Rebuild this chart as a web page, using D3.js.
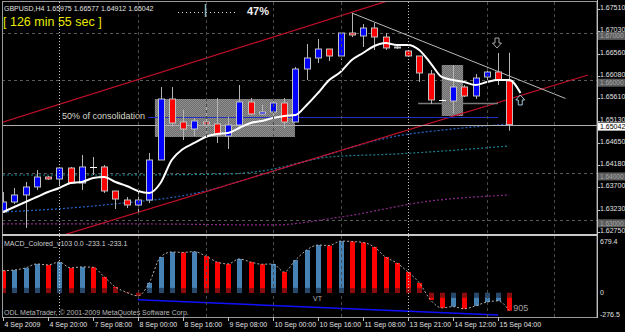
<!DOCTYPE html>
<html>
<head>
<meta charset="utf-8">
<script src="https://d3js.org/d3.v7.min.js"></script>
<style>
  body { margin: 0; background: #000; }
  svg text { font-family: "Liberation Sans", Arial, sans-serif; }
</style>
</head>
<body>
<div id="chart"></div>
<script>

  // GBPUSD H4 bars, 4 Sep 04:00 .. 15 Sep 08:00
  var opens  = [1.63177,1.63390,1.63540,1.63711,1.63924,1.63881,1.64116,1.63796,1.64138,1.64138,1.63625,1.63433,1.63326,1.63433,1.64287,1.65589,1.65098,1.64949,1.65098,1.65056,1.64799,1.65034,1.65525,1.65269,1.65312,1.65504,1.65098,1.66229,1.66464,1.66656,1.66507,1.66998,1.66934,1.67104,1.66912,1.66678,1.66614,1.66507,1.66123,1.65568,1.65546,1.65845,1.65653,1.66059,1.66165,1.65975]
  var highs  = [1.63604,1.63689,1.63817,1.64073,1.63945,1.64138,1.64138,1.64394,1.64351,1.64180,1.63625,1.63497,1.63604,1.64436,1.65845,1.65845,1.65354,1.65184,1.65418,1.65610,1.65205,1.65888,1.65610,1.65461,1.65568,1.65610,1.66272,1.66763,1.66870,1.66656,1.67019,1.67425,1.67190,1.67211,1.66998,1.66763,1.66635,1.66507,1.66208,1.65589,1.66315,1.65888,1.66123,1.66272,1.66571,1.66577]
  var lows   = [1.63177,1.63348,1.62836,1.63647,1.63860,1.63732,1.63775,1.63647,1.63967,1.63583,1.63241,1.63262,1.63177,1.63369,1.64287,1.64991,1.64714,1.64799,1.64863,1.64650,1.64522,1.64991,1.65248,1.65248,1.65184,1.64970,1.65098,1.65994,1.66357,1.66400,1.66421,1.66912,1.66699,1.66635,1.66635,1.66656,1.66485,1.65952,1.65482,1.65546,1.65290,1.65632,1.65589,1.65952,1.65888,1.64912]
  var closes = [1.63390,1.63540,1.63711,1.63924,1.63881,1.64116,1.63796,1.64138,1.64138,1.63625,1.63454,1.63326,1.63433,1.64287,1.65589,1.65077,1.64949,1.65120,1.65056,1.64821,1.65034,1.65525,1.65269,1.65312,1.65504,1.65098,1.66229,1.66464,1.66656,1.66507,1.66998,1.66955,1.67104,1.66912,1.66678,1.66699,1.66507,1.66144,1.65568,1.65568,1.65845,1.65653,1.66037,1.66165,1.65994,1.65042]

  // white moving average (shifted one bar forward, so 47 points)
  var maWhite = [1.63177,1.63284,1.63390,1.63497,1.63604,1.63689,1.63796,1.63817,1.63903,1.63924,1.63817,1.63732,1.63625,1.63583,1.63796,1.64287,1.64522,1.64650,1.64778,1.64842,1.64863,1.64970,1.65077,1.65120,1.65184,1.65226,1.65248,1.65461,1.65717,1.65994,1.66165,1.66421,1.66571,1.66720,1.66784,1.66742,1.66742,1.66635,1.66357,1.66059,1.65994,1.65952,1.65888,1.65952,1.65994,1.65994,1.65717]

  // slow dotted averages, [bar, price]
  var maBlue   = [[0,1.63177],[9,1.63327],[18,1.63625],[22,1.63903],[27,1.64265],[35,1.64799],[40,1.64949],[45,1.65056]]
  var maTeal   = [[0,1.63967],[10,1.63967],[20,1.63988],[23,1.64052],[29,1.64351],[35,1.64416],[45,1.64586]]
  var maPurple = [[0,1.62922],[12,1.62922],[24,1.62900],[30,1.63070],[38,1.63412],[45,1.63540]]

  var priceTicks = [1.67510,1.67030,1.66560,1.66080,1.65610,1.65130,1.64650,1.64180,1.63700,1.63230,1.62750]
  var levels = [1.67, 1.66, 1.64, 1.63]
  var bid = 1.65042

  var timeTicks = [0,4,8,12,16,20,24,28,32,36,40,44]
  var timeLabels = ["4 Sep 2009","4 Sep 20:00","7 Sep 08:00","8 Sep 00:00","8 Sep 16:00","9 Sep 08:00","10 Sep 00:00","10 Sep 16:00","11 Sep 08:00","13 Sep 21:00","14 Sep 12:00","15 Sep 04:00"]
  var daySeps = [12,18,24,30,43,49]
  var weekSeps = [5,36]

  // drawn objects, [bar, price]
  var chanUpper = [[0,1.65096],[34,1.67668]]
  var chanLower = [[5,1.62658],[52,1.66101]]
  var trendDown = [[31,1.67425],[50,1.65600]]
  var boxes = [[13.5,25.95,1.65589,1.64778],[39.0,40.9,1.66315,1.65226]]
  var halfLine = [12.9,44,1.65205]
  var baseLine = [36.9,44,1.65504]

  // MACD_Colored histogram
  var macd = [291,300,327,379,366,405,327,340,335,209,78,5,-39,131,470,536,530,540,484,405,379,444,405,375,378,274,431,562,627,620,679,672,660,601,470,392,274,131,-91,-196,-180,-209,-170,-120,-105,-233.1]
  var macdCol = ["r","b","b","b","r","b","r","b","r","r","r","r","r","b","b","b","r","b","r","r","r","b","r","r","b","r","b","b","b","r","b","r","r","r","r","r","r","r","r","r","b","r","b","b","b","r"]
  var macdTrend = [[12,-91],[44,-288]]

  var W = 625, H = 332
  var svg = d3.select("#chart").append("svg")
    .attr("width", W).attr("height", H)
    .style("background", "#000")

  var x = d3.scaleLinear().domain([0, 45]).range([3, 509.25])
  var y = d3.scaleLinear().domain([1.6275, 1.6751]).range([232, 9])
  var ym = d3.scaleLinear().domain([-276.5, 679.4]).range([314, 241])

  var defs = svg.append("defs")
  defs.append("clipPath").attr("id", "clipMain").append("rect")
    .attr("x", 2).attr("y", 2).attr("width", 595).attr("height", 232)
  defs.append("clipPath").attr("id", "clipMacd").append("rect")
    .attr("x", 2).attr("y", 237).attr("width", 595).attr("height", 80)
  var pat = defs.append("pattern").attr("id", "dither")
    .attr("width", 2).attr("height", 2).attr("patternUnits", "userSpaceOnUse")
  pat.append("rect").attr("width", 2).attr("height", 2).attr("fill", "#6e6e6e")
  pat.append("rect").attr("width", 1).attr("height", 1).attr("fill", "#8e8e8e")
  pat.append("rect").attr("x", 1).attr("y", 1).attr("width", 1).attr("height", 1).attr("fill", "#8e8e8e")

  var main = svg.append("g").attr("clip-path", "url(#clipMain)")
  var sub = svg.append("g").attr("clip-path", "url(#clipMacd)")

  // horizontal level lines
  main.selectAll(".lvl").data(levels).enter().append("line")
    .attr("x1", 2).attr("x2", 597)
    .attr("y1", function(d) { return Math.round(y(d)) + 0.5 })
    .attr("y2", function(d) { return Math.round(y(d)) + 0.5 })
    .attr("stroke", "#5a5a5a").attr("stroke-dasharray", "3,3")

  // day separators
  daySeps.forEach(function(i) {
    svg.append("line").attr("x1", Math.round(x(i)) + 0.5).attr("x2", Math.round(x(i)) + 0.5)
      .attr("y1", 2).attr("y2", 317)
      .attr("stroke", "#4a4a4a").attr("stroke-dasharray", "3,3")
  })
  weekSeps.forEach(function(i) {
    svg.append("line").attr("x1", Math.round(x(i)) + 0.5).attr("x2", Math.round(x(i)) + 0.5)
      .attr("y1", 2).attr("y2", 317)
      .attr("stroke", "#c8c8c8").attr("stroke-dasharray", "1,2")
  })

  var pline = d3.line().x(function(d) { return x(d[0]) }).y(function(d) { return y(d[1]) })
  var smooth = d3.line().x(function(d) { return x(d[0]) }).y(function(d) { return y(d[1]) }).curve(d3.curveMonotoneX)

  // slow dotted averages
  ;[[maPurple, "#8a2a8a"], [maTeal, "#1f7f8f"], [maBlue, "#2466c8"]].forEach(function(m) {
    main.append("path").attr("d", smooth(m[0]))
      .attr("fill", "none").attr("stroke", m[1]).attr("stroke-width", 1.2)
      .attr("stroke-dasharray", "2,2")
  })

  // consolidation boxes
  main.selectAll(".box").data(boxes).enter().append("rect")
    .attr("x", function(d) { return x(d[0]) })
    .attr("width", function(d) { return x(d[1]) - x(d[0]) })
    .attr("y", function(d) { return y(d[2]) })
    .attr("height", function(d) { return y(d[3]) - y(d[2]) })
    .attr("fill", "url(#dither)")

  // channel + trend lines (extended)
  function extend(seg, i0, i1) {
    var s = (seg[1][1] - seg[0][1]) / (seg[1][0] - seg[0][0])
    return [[i0, seg[0][1] + s * (i0 - seg[0][0])], [i1, seg[0][1] + s * (i1 - seg[0][0])]]
  }
  main.append("path").attr("d", pline(extend(chanUpper, -1, 40)))
    .attr("stroke", "#c0102a").attr("stroke-width", 1.2).attr("fill", "none")
  main.append("path").attr("d", pline(chanLower))
    .attr("stroke", "#c0102a").attr("stroke-width", 1.2).attr("fill", "none")
  main.append("path").attr("d", pline(trendDown))
    .attr("stroke", "#b8b8b8").attr("stroke-width", 1).attr("fill", "none")

  // bid line
  main.append("line").attr("x1", 2).attr("x2", 597)
    .attr("y1", Math.round(y(bid)) + 0.5).attr("y2", Math.round(y(bid)) + 0.5)
    .attr("stroke", "#b0b0b0")

  // 50% line and base line
  main.append("line").attr("x1", x(halfLine[0])).attr("x2", x(halfLine[1]))
    .attr("y1", Math.round(y(halfLine[2])) + 0.5).attr("y2", Math.round(y(halfLine[2])) + 0.5)
    .attr("stroke", "#2030c0")
  main.append("line").attr("x1", x(baseLine[0])).attr("x2", x(baseLine[1]))
    .attr("y1", Math.round(y(baseLine[2])) + 0.5).attr("y2", Math.round(y(baseLine[2])) + 0.5)
    .attr("stroke", "#7a7a7a").attr("stroke-width", 1.5)

  // candles
  var bars = opens.map(function(o, i) {
    return { i: i, o: o, h: highs[i], l: lows[i], c: closes[i] }
  })
  var cg = main.selectAll(".candle").data(bars).enter().append("g")
  cg.append("line")
    .attr("x1", function(d) { return Math.round(x(d.i)) + 0.5 })
    .attr("x2", function(d) { return Math.round(x(d.i)) + 0.5 })
    .attr("y1", function(d) { return y(d.h) })
    .attr("y2", function(d) { return y(d.l) })
    .attr("stroke", "#b4b4b4")
  cg.filter(function(d) { return d.o !== d.c }).append("rect")
    .attr("x", function(d) { return Math.round(x(d.i)) - 3 + 0.5 })
    .attr("width", 6)
    .attr("y", function(d) { return y(Math.max(d.o, d.c)) })
    .attr("height", function(d) { return Math.max(1, y(Math.min(d.o, d.c)) - y(Math.max(d.o, d.c))) })
    .attr("fill", function(d) { return d.c > d.o ? "#0000ff" : "#ff0000" })
    .attr("stroke", "#c0c0c0")
  cg.filter(function(d) { return d.o === d.c }).append("line")
    .attr("x1", function(d) { return Math.round(x(d.i)) - 3 })
    .attr("x2", function(d) { return Math.round(x(d.i)) + 4 })
    .attr("y1", function(d) { return Math.round(y(d.o)) + 0.5 })
    .attr("y2", function(d) { return Math.round(y(d.o)) + 0.5 })
    .attr("stroke", "#ffffff")

  // white MA
  main.append("path")
    .attr("d", smooth(maWhite.map(function(v, i) { return [i, v] })))
    .attr("fill", "none").attr("stroke", "#ffffff").attr("stroke-width", 2)

  // arrows
  function arrow(cx, cy, dir, col) {
    var s = dir
    var p = "M" + (cx - 2) + "," + (cy - 5 * s) + "L" + (cx + 2) + "," + (cy - 5 * s) +
      "L" + (cx + 2) + "," + cy + "L" + (cx + 4.5) + "," + cy + "L" + cx + "," + (cy + 5 * s) +
      "L" + (cx - 4.5) + "," + cy + "L" + (cx - 2) + "," + cy + "Z"
    main.append("path").attr("d", p).attr("fill", "none").attr("stroke", col).attr("stroke-width", 1)
  }
  arrow(x(44) - 1, y(1.66784), 1, "#a8a8a8")
  arrow(x(45) + 11, y(1.65568), -1, "#a8c4d8")

  // texts main
  main.append("text").attr("x", 62).attr("y", 119).attr("font-size", 9)
    .attr("fill", "#d8d8c8").text("50% of consolidation")

  svg.append("text").attr("x", 4).attr("y", 11).attr("font-size", 7)
    .attr("fill", "#e0e0e0").text("GBPUSD,H4  1.65975 1.66577 1.64912 1.65042")
  svg.append("text").attr("x", 3).attr("y", 26).attr("font-size", 12.5)
    .attr("fill", "#e8e800").text("[ 126 min 55 sec ]")

  svg.append("line").attr("x1", 178).attr("x2", 238).attr("y1", 12.5).attr("y2", 12.5)
    .attr("stroke", "#e0e0e0").attr("stroke-dasharray", "1,3")
  svg.append("line").attr("x1", 205.5).attr("x2", 205.5).attr("y1", 4).attr("y2", 17)
    .attr("stroke", "#8ab0b8").attr("stroke-width", 1.5)
  svg.append("text").attr("x", 247).attr("y", 15).attr("font-size", 11)
    .attr("font-weight", "bold").attr("fill", "#f0f0f0").text("47%")

  // MACD window
  var zero = ym(0)
  sub.selectAll(".hb").data(macd).enter().append("rect")
    .attr("x", function(d, i) { return Math.round(x(i)) - 2 })
    .attr("width", 5)
    .attr("y", function(d) { return Math.min(ym(d), zero) })
    .attr("height", function(d) { return Math.abs(ym(d) - zero) })
    .attr("fill", function(d, i) { return macdCol[i] === "b" ? "#4682b4" : "#ff0000" })
  sub.selectAll(".hd").data(macd).enter().append("rect")
    .attr("x", function(d, i) { return Math.round(x(i)) - 2 })
    .attr("width", 5)
    .attr("y", function(d) { return d > 0 ? zero - Math.min(5, zero - ym(d)) : zero })
    .attr("height", function(d) { return Math.min(5, Math.abs(ym(d) - zero)) })
    .attr("fill", function(d, i) { return macdCol[i] === "b" ? "#27486a" : "#8a0c0c" })
  sub.append("path")
    .attr("d", d3.line().x(function(d, i) { return x(i) }).y(function(d) { return ym(d) }).curve(d3.curveMonotoneX)(macd))
    .attr("fill", "none").attr("stroke", "#b0b0b0").attr("stroke-dasharray", "2,2")
  sub.append("path")
    .attr("d", d3.line().x(function(d) { return x(d[0]) }).y(function(d) { return ym(d[1]) })(macdTrend))
    .attr("fill", "none").attr("stroke", "#1010ff").attr("stroke-width", 1.5)

  svg.append("text").attr("x", 4).attr("y", 246).attr("font-size", 7)
    .attr("fill", "#d0d0d0").text("MACD_Colored_v103 0.0 -233.1 -233.1")
  svg.append("text").attr("x", x(28) - 5).attr("y", 301).attr("font-size", 7)
    .attr("fill", "#b0b0b0").text("VT")
  svg.append("text").attr("x", x(45) + 4).attr("y", 311).attr("font-size", 9)
    .attr("fill", "#a0a0a0").text("905")
  svg.append("text").attr("x", 4).attr("y", 315).attr("font-size", 7)
    .attr("fill", "#b8b8b8").text("ODL MetaTrader, \u00a9 2001-2009 MetaQuotes Software Corp.")

  // frame
  svg.append("rect").attr("x", 2.5).attr("y", 1.5).attr("width", 594.5).attr("height", 316)
    .attr("fill", "none").attr("stroke", "#9a9a9a")
  svg.append("line").attr("x1", 2).attr("x2", 597).attr("y1", 235).attr("y2", 235)
    .attr("stroke", "#c8c8c8").attr("stroke-width", 2)

  // price axis
  var ax = svg.append("g")
  levels.forEach(function(v) {
    ax.append("rect").attr("x", 598).attr("y", y(v) - 1).attr("width", 27).attr("height", 8)
      .attr("fill", "#5c5c5c")
    ax.append("text").attr("x", 600).attr("y", y(v) + 5.5).attr("font-size", 6.5)
      .attr("fill", "#a8a8a8").text(v.toFixed(5))
  })
  ax.selectAll(".pt").data(priceTicks).enter().append("text")
    .attr("x", 600).attr("y", function(d) { return y(d) + 1 })
    .attr("font-size", 7).attr("fill", "#e0e0e0")
    .text(function(d) { return d.toFixed(5) })
  ax.selectAll(".ptk").data(priceTicks).enter().append("line")
    .attr("x1", 597).attr("x2", 600)
    .attr("y1", function(d) { return Math.round(y(d)) + 0.5 })
    .attr("y2", function(d) { return Math.round(y(d)) + 0.5 })
    .attr("stroke", "#c0c0c0")
  ax.append("rect").attr("x", 598).attr("y", y(bid) - 2).attr("width", 27).attr("height", 8)
    .attr("fill", "#ffffff")
  ax.append("text").attr("x", 600).attr("y", y(bid) + 4.5).attr("font-size", 7)
    .attr("fill", "#000").text(bid.toFixed(5))
  ax.append("line").attr("x1", 597.5).attr("x2", 597.5).attr("y1", 0).attr("y2", 318)
    .attr("stroke", "#c0c0c0")

  ax.append("text").attr("x", 600).attr("y", ym(679.4) + 2.5).attr("font-size", 7)
    .attr("fill", "#e0e0e0").text("679.4")
  ax.append("text").attr("x", 600).attr("y", ym(0) + 2.5).attr("font-size", 7)
    .attr("fill", "#e0e0e0").text("0")
  ax.append("text").attr("x", 600).attr("y", ym(-276.5) + 2.5).attr("font-size", 7)
    .attr("fill", "#e0e0e0").text("-276.5")

  // time axis
  var tg = svg.append("g")
  timeTicks.forEach(function(t, k) {
    var xx = Math.round(x(t)) + 0.5
    tg.append("line").attr("x1", xx).attr("x2", xx).attr("y1", 317).attr("y2", 321)
      .attr("stroke", "#c0c0c0")
    tg.append("text").attr("x", xx + 1).attr("y", 327).attr("font-size", 7)
      .attr("fill", "#e0e0e0").text(timeLabels[k])
  })

</script>
</body>
</html>
